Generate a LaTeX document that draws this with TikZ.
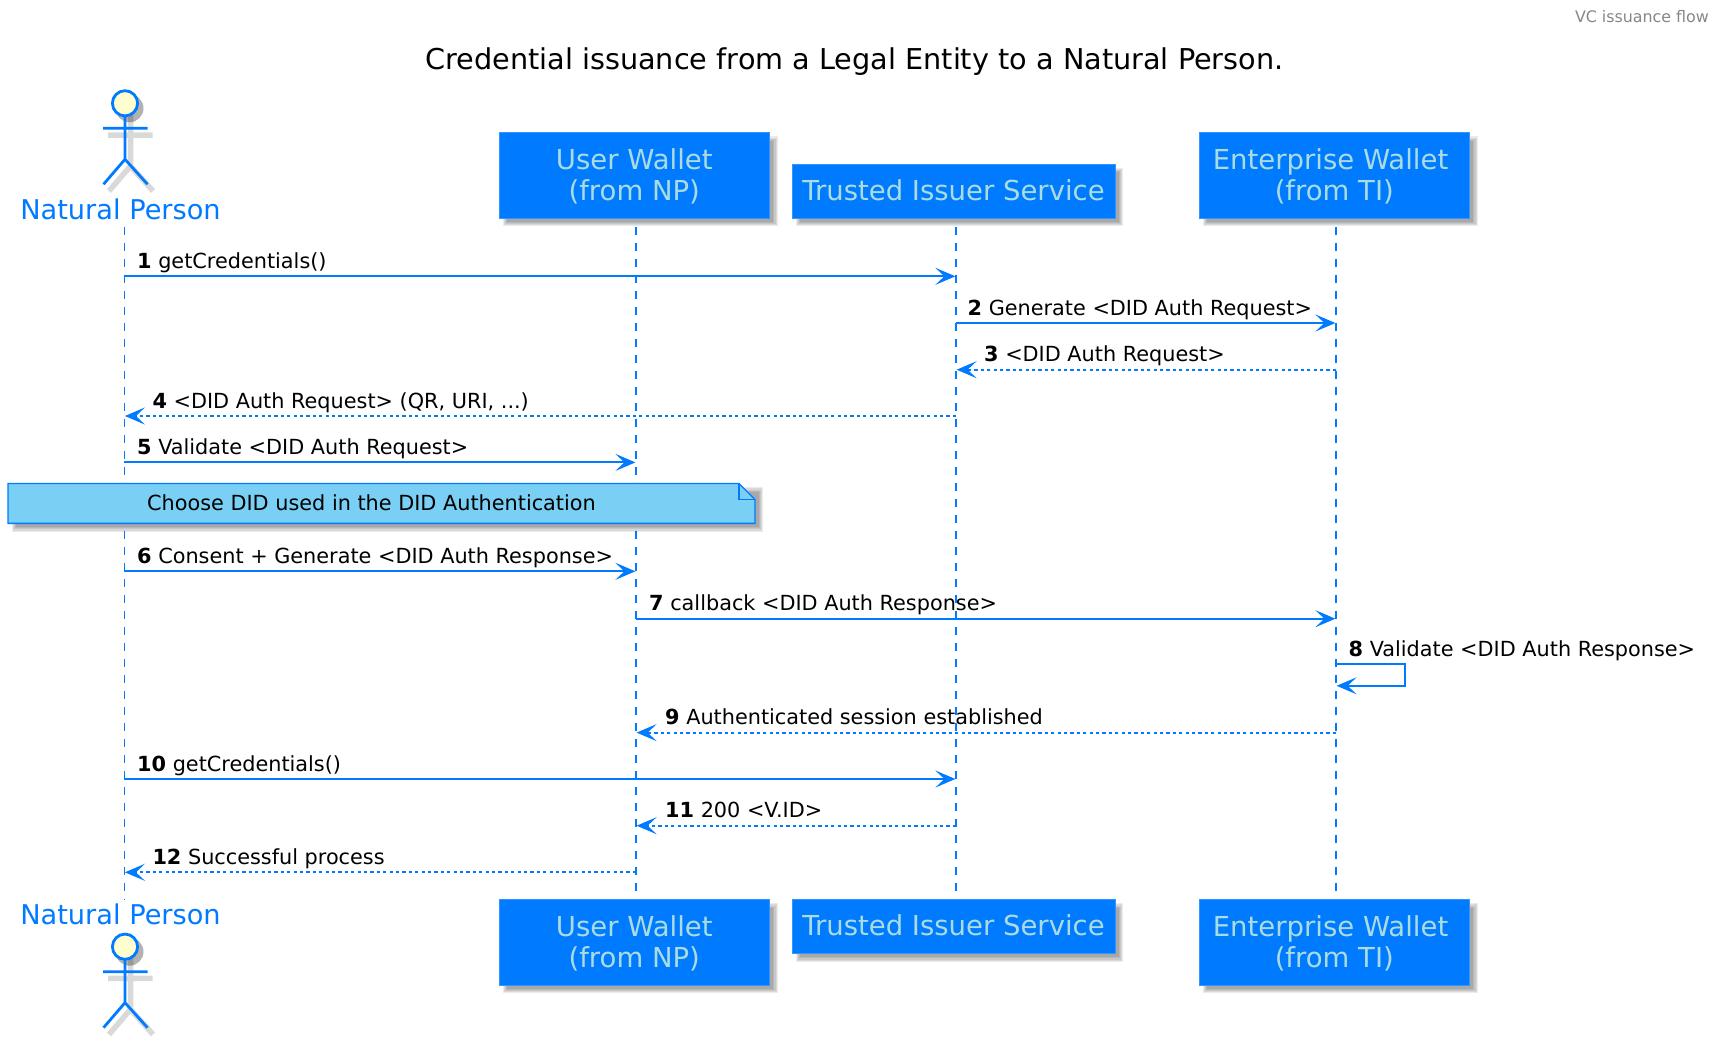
\documentclass[tikz,border=0pt]{standalone}
\usepackage{fontspec}
\setmainfont{DejaVu Sans}
\usetikzlibrary{arrows.meta,calc}
\definecolor{pblue}{HTML}{007BFF}
\definecolor{ptxt}{HTML}{A9DCDF}
\definecolor{notefill}{HTML}{7ACFF5}
\definecolor{headfill}{HTML}{FEFECE}
\tikzset{
  lifeline/.style={draw=pblue,line width=1.6pt,dash pattern=on 7.8pt off 8.2pt},
  msgsolid/.style={draw=pblue,line width=1.9pt,shorten >=0.6pt,-{Stealth[length=20pt,width=17pt,inset=9pt]}},
  msgdot/.style={msgsolid,dash pattern=on 3.2pt off 3.2pt},
  msgtext/.style={inner sep=0pt,anchor=base west,font=\fontsize{20.8}{26}\selectfont,text=black},
  pbox/.style={rectangle,fill=pblue,draw=pblue!80!white,line width=1pt,inner sep=0pt,text=ptxt,font=\fontsize{27.5}{31}\selectfont},
  actorname/.style={inner sep=0pt,anchor=base,text=pblue,font=\fontsize{27.2}{32}\selectfont},
  limb/.style={draw=pblue,line width=2.8pt},
  limbsh/.style={draw=black,line width=5.5pt,opacity=.15},
  notebox/.style={draw=pblue,fill=notefill,line width=1.4pt},
  titletext/.style={inner sep=0pt,anchor=base,font=\fontsize{28.7}{34}\selectfont,text=black},
  headertext/.style={inner sep=0pt,anchor=base east,font=\fontsize{15.85}{20}\selectfont,text=black!47},
}
\newcommand{\softsh}[4]{%
  \foreach \g in {2.4,1.2,0,-1.2,-2.4}{%
    \fill[black,opacity=.08] ({#1+6-\g},{#2+6-\g}) rectangle ({#3+6+\g},{#4+6+\g});}%
}
\newcommand{\ptext}[1]{\raisebox{-9.4pt}[0pt][0pt]{\begin{tabular}{@{}c@{}}#1\end{tabular}}}
\newcommand{\actorfig}[1]{%
  \begin{scope}[shift={(125,#1)}]
    \draw[limbsh] (5.5,10) -- (5.5,62.7) (-17,31.7) -- (27.5,31.7) (-16,87.7) -- (5.5,62.7) -- (28,87.7);
    \fill[black,opacity=.3] (4.5,5) circle (14);
    \draw[limb] (0,13) -- (0,56) (-22,25) -- (22.5,25) (-21.5,81) -- (0,56) -- (22.5,81);
    \draw[limb,fill=headfill] (0,0) circle (12.6);
  \end{scope}}
\newcommand{\msgm}[8]{%
  \coordinate (m#2a) at (#3 |- 0,#5);
  \coordinate (m#2b) at (#4 |- 0,#5);
  \draw[#1] (m#2a) -- (m#2b);
  \node[msgtext] (t#2) at (#6,{#5-8}) {\textbf{#7} #8};}
\begin{document}
\begin{tikzpicture}[x=1pt,y=-1pt]
\useasboundingbox (0,0) rectangle (1718,1036);
\fill[white] (0,0) rectangle (1718,1036);
\coordinate (lnat) at (124.3,0);
\coordinate (luw) at (636,0);
\coordinate (lti) at (956,0);
\coordinate (lew) at (1336,0);
\node[headertext] (hdr) at (1709,22.7) {VC issuance flow};
\node[titletext] (ttl) at (854.5,69) {Credential issuance from a Legal Entity to a Natural Person.};
% lifelines
\foreach \n in {lnat,luw,lti,lew}{\draw[lifeline] (\n |- 0,226.7) -- (\n |- 0,900);}
% participants
\softsh{499}{132.7}{769.5}{218}
\softsh{792}{164}{1115}{218}
\softsh{1199}{132.7}{1469.6}{218}
\softsh{499}{899.5}{769.5}{985}
\softsh{792}{899.5}{1115}{953.5}
\softsh{1199}{899.5}{1469.6}{985}
\node[pbox,minimum width=270.5pt,minimum height=85.3pt] (uwT) at (634.25,175.35) {\ptext{User Wallet\\(from NP)}};
\node[pbox,minimum width=323pt,minimum height=54pt] (tiT) at (953.5,191) {\ptext{Trusted Issuer Service}};
\node[pbox,minimum width=270.6pt,minimum height=85.3pt] (ewT) at (1334.3,175.35) {\ptext{Enterprise Wallet\kern7.5pt\\(from TI)}};
\node[pbox,minimum width=270.5pt,minimum height=85.5pt] (uwB) at (634.25,942.25) {\ptext{User Wallet\\(from NP)}};
\node[pbox,minimum width=323pt,minimum height=54pt] (tiB) at (953.5,926.5) {\ptext{Trusted Issuer Service}};
\node[pbox,minimum width=270.6pt,minimum height=85.5pt] (ewB) at (1334.3,942.25) {\ptext{Enterprise Wallet\kern7.5pt\\(from TI)}};
% actors
\actorfig{103.3}
\actorfig{946.7}
\node[actorname] (natT) at (120.5,219) {Natural Person};
\node[actorname] (natB) at (120.5,924) {Natural Person};
% messages
\msgm{msgsolid}{1}{lnat}{lti}{276.3}{137}{1}{getCredentials()}
\msgm{msgsolid}{2}{lti}{lew}{323}{967.5}{2}{Generate <DID Auth Request>}
\msgm{msgdot}{3}{lew}{lti}{369.7}{984}{3}{<DID Auth Request>}
\msgm{msgdot}{4}{lti}{lnat}{416}{152.3}{4}{<DID Auth Request> (QR, URI, ...)}
\msgm{msgsolid}{5}{lnat}{luw}{462.4}{137}{5}{Validate <DID Auth Request>}
\msgm{msgsolid}{6}{lnat}{luw}{571.3}{137}{6}{Consent + Generate <DID Auth Response>}
\msgm{msgsolid}{7}{luw}{lew}{618.7}{649}{7}{callback <DID Auth Response>}
\coordinate (s8a) at (lew |- 0,664.3);
\coordinate (s8c) at (1404.7,664.3);
\coordinate (s8d) at (1404.7,685.8);
\coordinate (s8b) at (lew |- 0,685.8);
\draw[msgsolid] (s8a) -- (s8c) -- (s8d) -- (s8b);
\node[msgtext] (t8) at (1348.5,656.5) {\textbf{8} Validate <DID Auth Response>};
\msgm{msgdot}{9}{lew}{luw}{732.6}{665}{9}{Authenticated session established}
\msgm{msgsolid}{10}{lnat}{lti}{779}{137}{10}{getCredentials()}
\msgm{msgdot}{11}{lti}{luw}{825.7}{665}{11}{200 <V.ID>}
\msgm{msgdot}{12}{luw}{lnat}{872.3}{152.3}{12}{Successful process}
% note
\softsh{8}{483.5}{755}{523.3}
\coordinate (na) at (8,483.5);
\coordinate (nb) at (739,483.5);
\coordinate (nc) at (755,499.5);
\coordinate (nd) at (755,523.3);
\coordinate (ne) at (8,523.3);
\coordinate (nf) at (739,499.5);
\draw[notebox] (na) -- (nb) -- (nc) -- (nd) -- (ne) -- cycle;
\draw[notebox,fill=none] (nb) -- (nf) -- (nc);
\node[inner sep=0pt,anchor=base,font=\fontsize{20.8}{26}\selectfont] (ntx) at (371.5,510) {Choose DID used in the DID Authentication};
\end{tikzpicture}
\end{document}
